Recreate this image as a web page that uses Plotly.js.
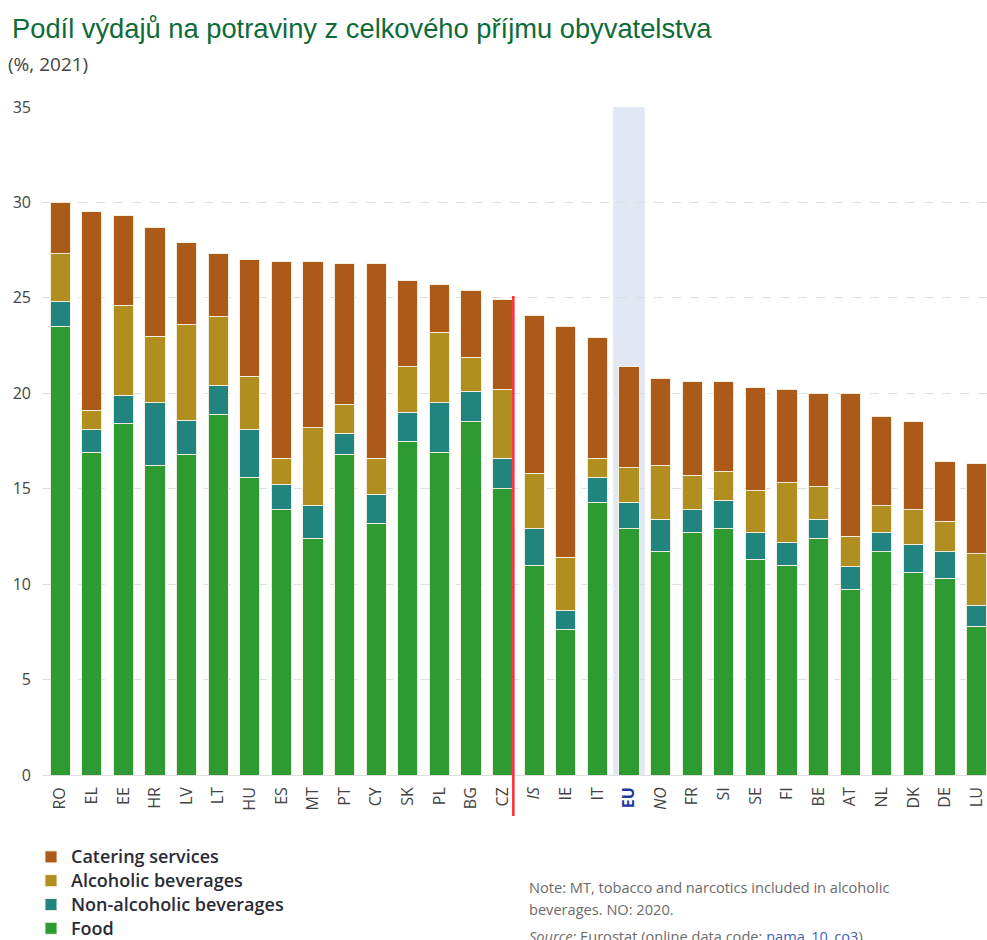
<!DOCTYPE html>
<html>
<head>
<meta charset="utf-8">
<script src="https://cdn.plot.ly/plotly-3.0.1.min.js"></script>
<style>html,body{margin:0;padding:0;background:#fff;}#chart{width:987px;height:940px;}</style>
</head>
<body>
<div id="chart"></div>
<script>
// Data (% of total income, 2021)
const countries = ['RO','EL','EE','HR','LV','LT','HU','ES','MT','PT','CY','SK','PL','BG','CZ','IS','IE','IT','EU','NO','FR','SI','SE','FI','BE','AT','NL','DK','DE','LU'];
const food       = [23.5,16.9,18.4,16.2,16.8,18.9,15.6,13.9,12.4,16.8,13.2,17.5,16.9,18.5,15.0,11.0, 7.6,14.3,12.9,11.7,12.7,12.9,11.3,11.0,12.4, 9.7,11.7,10.6,10.3, 7.8];
const nonAlcohol = [ 1.3, 1.2, 1.5, 3.3, 1.8, 1.5, 2.5, 1.3, 1.7, 1.1, 1.5, 1.5, 2.6, 1.6, 1.6, 1.9, 1.0, 1.3, 1.4, 1.7, 1.2, 1.5, 1.4, 1.2, 1.0, 1.2, 1.0, 1.5, 1.4, 1.1];
const alcohol    = [ 2.5, 1.0, 4.7, 3.5, 5.0, 3.6, 2.8, 1.4, 4.1, 1.5, 1.9, 2.4, 3.7, 1.8, 3.6, 2.9, 2.8, 1.0, 1.8, 2.8, 1.8, 1.5, 2.2, 3.1, 1.7, 1.6, 1.4, 1.8, 1.6, 2.7];
const catering   = [ 2.7,10.4, 4.7, 5.7, 4.3, 3.3, 6.1,10.3, 8.7, 7.4,10.2, 4.5, 2.5, 3.5, 4.7, 8.3,12.1, 6.3, 5.3, 4.6, 4.9, 4.7, 5.4, 4.9, 4.9, 7.5, 4.7, 4.6, 3.1, 4.7];
const seriesNames = ['Food','Non-alcoholic beverages','Alcoholic beverages','Catering services'];
const yTicks = [0,5,10,15,20,25,30,35];
const italicLabels = ['IS','NO'];
const boldLabel = 'EU';
const dividerAfter = 'CZ';
const highlight = 'EU';
const noteLines = ['Note: MT, tobacco and narcotics included in alcoholic', 'beverages. NO: 2020.'];

const colors = ['#2e9b32','#21847f','#b08f20','#ab5a17'];
const values = [food, nonAlcohol, alcohol, catering];

const traces = values.map((v, i) => ({
  type: 'bar',
  name: '<span style="font-size:18px">' + seriesNames[i] + '</span>',
  x: countries,
  y: v,
  width: 0.64,
  marker: {color: colors[i], line: {color: 'rgba(245,240,225,0.95)', width: 1}},
  hovertemplate: '%{x}: %{y}<extra>' + seriesNames[i] + '</extra>'
}));

const tickText = countries.map(c => {
  if (italicLabels.includes(c)) return '<i>' + c + '</i>';
  if (c === boldLabel) return '<b><span style="color:#1b3a9c">' + c + '</span></b>';
  return c;
});

const divIdx = countries.indexOf(dividerAfter) + 0.34;
const hiIdx = countries.indexOf(highlight);

// plot area in pixels: x 42..987, y 107..775
const PL = 42, PW = 945, PB = 775, PH = 668;
const px = v => (v - PL) / PW;
const py = v => (PB - v) / PH;

const noteFont = {family: 'Open Sans, sans-serif', size: 14.6, color: '#6b6b6b'};
const noteAnn = noteLines.map((t, i) => ({
  text: t, xref: 'paper', yref: 'paper', x: px(527), xanchor: 'left', y: py(887 + 22 * i), yanchor: 'middle',
  align: 'left', showarrow: false, font: noteFont
}));

const layout = {
  width: 987, height: 940,
  margin: {l: 42, r: 0, t: 107, b: 165, autoexpand: false},
  paper_bgcolor: '#fff', plot_bgcolor: '#fff',
  barmode: 'stack',
  showlegend: true,
  title: {
    text: 'Podíl výdajů na potraviny z celkového příjmu obyvatelstva',
    font: {family: 'Liberation Sans, Arial, sans-serif', size: 27.3, color: '#0e6b38'},
    xref: 'container', yref: 'container', x: 12/987, xanchor: 'left', y: 1 - 28/940, yanchor: 'middle'
  },
  xaxis: {
    type: 'category',
    range: [-0.576, 29.33],
    tickmode: 'array', tickvals: countries, ticktext: tickText,
    tickangle: -90,
    tickfont: {family: 'Open Sans, sans-serif', size: 16, color: '#444'},
    showgrid: false, zeroline: false, showline: false, ticks: '', ticklabelstandoff: 8,
    fixedrange: true
  },
  yaxis: {
    range: [0, 35],
    tickvals: yTicks,
    tickfont: {family: 'Open Sans, sans-serif', size: 16, color: '#444'},
    showgrid: true, gridcolor: '#dedede', griddash: 'dash', gridwidth: 1,
    zeroline: true, zerolinecolor: '#dedede', zerolinewidth: 1,
    showline: false, ticks: '', ticklabelstandoff: 10,
    fixedrange: true
  },
  legend: {
    orientation: 'v', traceorder: 'reversed',
    xref: 'paper', yref: 'paper',
    x: px(31), xanchor: 'left', y: py(840), yanchor: 'top',
    font: {family: 'Open Sans, sans-serif', size: 16, color: '#2b2b36', weight: 600},
    itemclick: false, itemdoubleclick: false, tracegroupgap: 0
  },
  shapes: [
    {type: 'rect', xref: 'x', yref: 'y', x0: hiIdx - 0.5, x1: hiIdx + 0.5, y0: 0, y1: 35,
     fillcolor: '#e2e7f4', line: {width: 0}, layer: 'below'},
    {type: 'line', xref: 'x', yref: 'paper', x0: divIdx, x1: divIdx, y0: py(816), y1: py(296),
     line: {color: '#ff2b3b', width: 2.5}, layer: 'above'}
  ],
  annotations: [
    {text: '(%, 2021)', xref: 'paper', yref: 'paper', x: px(6), xanchor: 'left', y: py(64), yanchor: 'middle',
     showarrow: false, font: {family: 'Open Sans, sans-serif', size: 19, color: '#444'}},
    ...noteAnn,
    {text: '<i>Source:</i> Eurostat (online data code: <span style="color:#3f5fbf">nama_10_co3</span>)', xref: 'paper', yref: 'paper',
     x: px(527), xanchor: 'left', y: py(936), yanchor: 'middle', align: 'left', showarrow: false,
     font: noteFont}
  ]
};

Plotly.newPlot('chart', traces, layout, {displayModeBar: false});
</script>
</body>
</html>
